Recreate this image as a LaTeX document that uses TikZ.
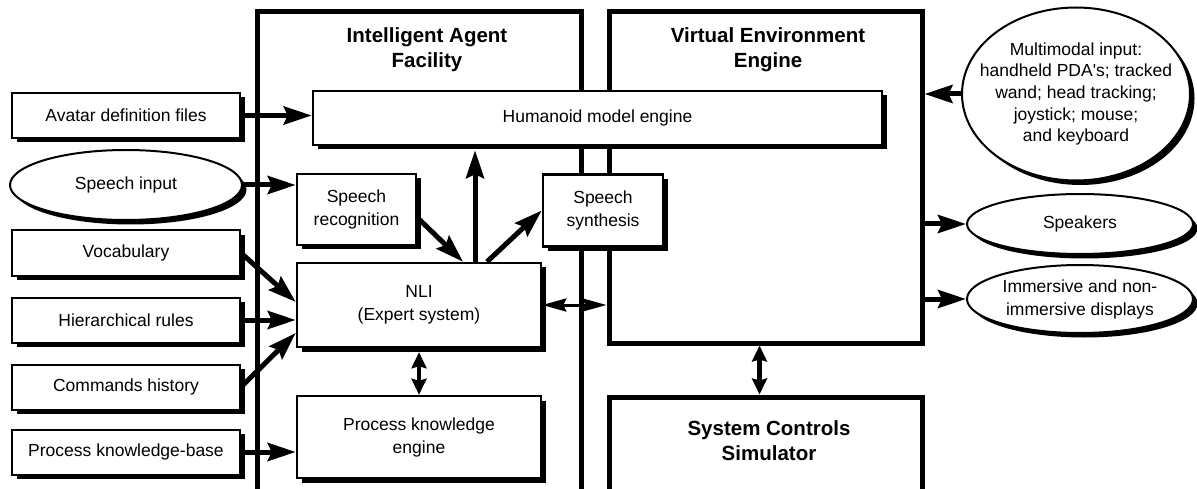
\documentclass[tikz,border=0pt]{standalone}
\usepackage{fontspec}
\setmainfont{Liberation Sans}
\usetikzlibrary{arrows.meta, positioning, shapes.geometric, shadows}

\tikzset{
  frame/.style={draw, line width=5pt, minimum width=313pt},
  title/.style={font=\bfseries\fontsize{20.5}{25}\selectfont, align=center},
  shadowed/.style={fill=white, drop shadow={shadow xshift=4.5pt, shadow yshift=-4.5pt, fill=black, opacity=1}},
  inbox/.style={draw, line width=2pt, shadowed, minimum width=228pt, minimum height=45pt},
  unit/.style={draw, line width=2.5pt, shadowed, align=center},
  port/.style={ellipse, draw, line width=2pt, shadowed, align=center, inner sep=0pt},
  link/.style={line width=5pt, -{Stealth[length=28pt, width=18pt, inset=4pt]}},
  twoway/.style={line width=4.5pt, {Stealth[length=16pt, width=15pt, inset=2pt]}-{Stealth[length=16pt, width=15pt, inset=2pt]}},
  thintwoway/.style={line width=3pt, {Stealth[length=24pt, width=13pt, inset=3pt]}-{Stealth[length=24pt, width=13pt, inset=3pt]}}
}

\begin{document}
\begin{tikzpicture} [x=1pt, y=-1pt, on grid, every node/.style={font=\fontsize{17.5}{23}\selectfont}]

\useasboundingbox (0,0) rectangle (1197,489);
\clip (0,0) rectangle (1197,489);

% the three large blocks
\node (iaf) [frame, minimum width=324pt, minimum height=556pt] at (419,290) {};
\node (vee) [frame, minimum height=331pt] at (765.5,177.5) {};
\node (scs) [frame, minimum height=103pt] at (765.5,448.5) {};
\node (iaftitle) [title, below=40.5pt of iaf.north, anchor=center, xshift=8pt] {Intelligent Agent\\Facility};
\node (veetitle) [title, below=40.5pt of vee.north, anchor=center, xshift=2.5pt] {Virtual Environment\\Engine};
\node (scstitle) [title, below=46.5pt of scs.north, anchor=center, xshift=3.5pt] {System Controls\\Simulator};

% inputs on the left
\node (avatar) [inbox] at (126,115.5) {Avatar definition files};
\node (speechin) [port, minimum width=232pt, minimum height=70pt, below=69.5pt of avatar] {Speech input};
\node (vocab) [inbox, below=68pt of speechin] {Vocabulary};
\node (rules) [inbox, below=67pt of vocab] {Hierarchical rules};
\node (history) [inbox, below=67pt of rules] {Commands history};
\node (kbase) [inbox, below=65pt of history] {Process knowledge-base};

% inner units
\node (humanoid) [unit, minimum width=569pt, minimum height=54pt] at (597.5,118) {Humanoid model engine};
\node (recog) [unit, minimum width=119pt, minimum height=71pt] at (356.5,209.5) {Speech\\recognition};
\node (synth) [unit, minimum width=120pt, minimum height=72pt] at (603,210.5) {Speech\\synthesis};
\node (nli) [unit, minimum width=244pt, minimum height=84pt] at (419,305) {NLI\\(Expert system)};
\node (pke) [unit, minimum width=244pt, minimum height=82pt, below=132pt of nli] {Process knowledge\\engine};

% devices on the right
\node (multi) [port, minimum width=228pt, minimum height=173pt, inner xsep=-16pt, font=\fontsize{17.5}{21.7}\selectfont] at (1076,94) {Multimodal input:\\handheld PDA\textquotesingle s; tracked\\wand; head tracking;\\joystick; mouse;\\and keyboard};
\node (spk) [port, minimum width=226pt, minimum height=60pt] at (1080,224) {Speakers};
\node (disp) [port, minimum width=226pt, minimum height=68pt, inner xsep=-5pt, below=75pt of spk] {Immersive and non-\\immersive displays};

\draw [link] (avatar.east) -- (avatar.east -| humanoid.west);
\draw [link] (speechin.east) -- (speechin.east -| recog.west);
\draw [link] (vocab.east) -- ([yshift=3pt]nli.west);
\draw [link] (rules.east) -- (rules.east -| nli.west);
\draw [link] (history.east) -- ([yshift=-28pt]nli.west);
\draw [link] (kbase.east) -- (kbase.east -| pke.west);

\draw [link] ([yshift=-8pt]recog.east) -- ([xshift=44pt]nli.north);
\draw [link, shorten >=4pt] ([xshift=56pt]nli.north) -- ([xshift=56pt]nli.north |- humanoid.south);
\draw [link] ([xshift=68pt]nli.north) -- (synth.west);
\draw [thintwoway] (nli.east) -- (nli.east -| vee.west);
\draw [twoway, shorten <=4pt] (nli.south) -- (pke.north);
\draw [twoway] ([xshift=-6pt]vee.south) -- ([xshift=-6pt]scs.north);

\draw [link] (multi.west) -- (multi.west -| vee.east);
\draw [link] (vee.east |- spk.west) -- (spk.west);
\draw [link] (vee.east |- disp.west) -- (disp.west);

\end{tikzpicture}
\end{document}
